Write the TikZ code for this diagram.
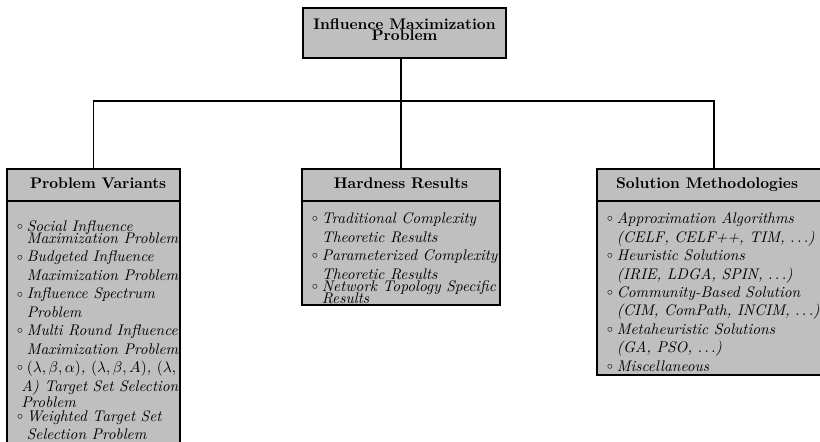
\documentclass[tikz,border=0pt]{standalone}
\usepackage{amsmath}
\usepackage{amssymb}
\usetikzlibrary{positioning}

\newcommand{\pxu}{0.65pt}
\newcommand{\bul}{\makebox[6.5pt][l]{\raisebox{1.2pt}{$\scriptstyle\circ$}}}
\newcommand{\ind}{\hspace*{6.5pt}}

\tikzset{
  boxline/.style={draw=black,line width=1.4pt,fill=gray!50,outer sep=0pt},
  headbox/.style={boxline,font=\bfseries,minimum height=32*\pxu,text height=7pt,text depth=3pt,inner sep=0pt,anchor=north},
  bodybox/.style={boxline,inner sep=0pt,anchor=north},
  itemtext/.style={font=\itshape,align=left,inner sep=0pt,anchor=north west},
  link/.style={line width=1.1pt}
}

\begin{document}
\begin{tikzpicture}[x=\pxu,y=-\pxu]
  \useasboundingbox (0,0) rectangle (820,441);
  % top of the tree
  \node[boxline,font=\bfseries,align=center,minimum width=203*\pxu,minimum height=50*\pxu,inner sep=0pt] (root) at (404.5,33)
    {Influence Maximization\\[-4.6pt]Problem\rule[-4.5pt]{0pt}{4.5pt}};
  % the three branches
  \node[headbox,minimum width=173*\pxu] (varhead) at (93.5,169) {\hspace*{6pt}Problem Variants};
  \node[bodybox,minimum width=173*\pxu,minimum height=250*\pxu] (varbody) at (varhead.south) {};
  \node[headbox,minimum width=198*\pxu] (hardhead) at (401,169) {Hardness Results};
  \node[bodybox,minimum width=198*\pxu,minimum height=104*\pxu] (hardbody) at (hardhead.south) {};
  \node[headbox,minimum width=234*\pxu] (solhead) at (714,169) {Solution Methodologies\hspace*{9pt}};
  \node[bodybox,minimum width=234*\pxu,minimum height=174*\pxu] (solbody) at (solhead.south) {};
  % lists
  \node[itemtext] (vartext) at (16.5,220.3) {\bul Social Influence\\[-4.2pt]
    \ind Maximization Problem\\
    \bul Budgeted Influence\\
    \ind Maximization Problem\\
    \bul Influence Spectrum\\
    \ind Problem\\
    \bul Multi Round Influence\\
    \ind Maximization Problem\\
    \bul $(\lambda,\beta,\alpha)$, $(\lambda,\beta,A)$, $(\lambda,$\\
    \hspace*{2.9pt}A) Target Set Selection\\[-1.6pt]
    \hspace*{2.9pt}Problem\\[-2.9pt]
    \bul Weighted Target Set\\
    \ind Selection Problem};
  \node[itemtext] (hardtext) at (311.5,212.5) {\bul Traditional Complexity\\
    \ind Theoretic Results\\
    \bul Parameterized Complexity\\
    \ind Theoretic Results\\[-4.2pt]
    \bul Network Topology Specific\\[-4.2pt]
    \ind Results};
  \node[itemtext] (soltext) at (606.5,212.3) {\bul Approximation Algorithms\\
    \ind (CELF, CELF++, TIM, $\ldots$)\\
    \bul Heuristic Solutions\\
    \ind (IRIE, LDGA, SPIN, $\ldots$)\\
    \bul Community-Based Solution\\
    \ind (CIM, ComPath, INCIM, $\ldots$)\\
    \bul Metaheuristic Solutions\\
    \ind (GA, PSO, $\ldots$)\\
    \bul Miscellaneous};
  % connectors
  \coordinate (bus) at (401,101);
  \draw[link] (varhead.north) |- (bus) -| (solhead.north);
  \draw[link] (root.south -| hardhead.north) -- (hardhead.north);
\end{tikzpicture}
\end{document}
